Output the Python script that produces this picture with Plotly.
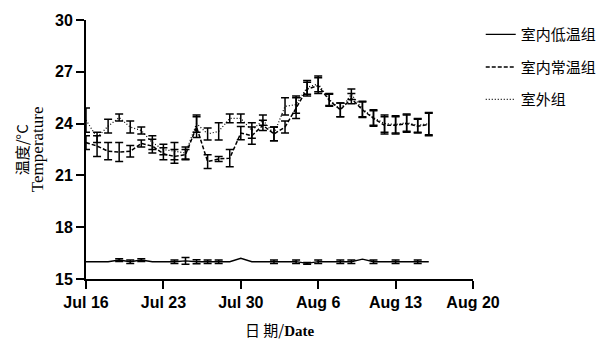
import plotly.graph_objects as go
import pandas as pd

dates = pd.date_range("2021-07-16", "2021-08-16", freq="D")

low_mean = [16.0, 16.0, 16.0, 16.1, 16.0, 16.1, 16.0, 16.0, 16.0, 16.05, 16.0, 16.0, 16.0, 16.0, 16.2, 16.0,
            16.0, 16.0, 16.0, 16.0, 15.9, 16.0, 16.0, 16.0, 16.0, 16.15, 16.0, 16.0, 16.0, 16.0, 16.0, 16.0]
low_err = [None, None, None, 0.08, 0.1, 0.08, None, None, 0.1, 0.2, 0.12, 0.1, 0.1, None, None, None,
           None, 0.1, None, 0.1, 0.05, 0.1, None, 0.1, 0.1, None, 0.1, None, 0.1, None, 0.1, None]

normal_mean = [22.9, 22.7, 22.4, 22.35, 22.4, 22.85, 22.7, 22.25, 22.1, 22.2, 23.8, 21.8, 21.95, 22.0, 23.45, 23.3,
               23.9, 23.4, 23.8, 24.9, 26.0, 26.2, 25.35, 24.8, 25.45, 24.8, 24.3, 23.9, 23.9, 24.0, 23.85, 23.95]
normal_err = [0.4, 0.6, 0.5, 0.55, 0.33, 0.2, 0.4, 0.35, 0.4, 0.3, 0.6, 0.4, 0.15, 0.5, 0.38, 0.5,
              0.3, 0.4, 0.35, 0.6, 0.4, 0.45, 0.35, 0.4, 0.3, 0.45, 0.45, 0.5, 0.5, 0.5, 0.4, 0.65]

outdoor_mean = [24.2, 23.2, 23.85, 24.35, 23.8, 23.6, 22.9, 22.5, 22.4, 22.3, 24.0, 23.4, 23.55, 24.3, 24.3, 23.6,
                24.2, 23.4, 25.0, 25.1, 26.1, 26.3, 25.4, 24.8, 25.7, 24.85, 24.35, 24.0, 23.95, 24.05, 23.9, 24.0]
outdoor_err = [0.7, 0.3, 0.4, 0.2, 0.35, 0.2, 0.4, 0.3, 0.5, 0.35, 0.5, 0.35, 0.5, 0.25, 0.25, 0.45,
               0.3, 0.4, 0.5, 0.5, 0.4, 0.45, 0.35, 0.4, 0.3, 0.45, 0.45, 0.5, 0.5, 0.5, 0.4, 0.65]

series_names = ["室内低温组", "室内常温组", "室外组"]
tick_dates = ["2021-07-16", "2021-07-23", "2021-07-30", "2021-08-06", "2021-08-13", "2021-08-20"]
tick_labels = ["Jul 16", "Jul 23", "Jul 30", "Aug 6", "Aug 13", "Aug 20"]
y_ticks = [15, 18, 21, 24, 27, 30]

fig = go.Figure()

eb = dict(type="data", color="black", thickness=1.5, width=4)

fig.add_trace(go.Scatter(x=dates, y=low_mean, mode="lines", name=series_names[0],
                         line=dict(color="black", width=1.3), legendgroup="a"))
lx = [d for d, e in zip(dates, low_err) if e is not None]
ly = [m for m, e in zip(low_mean, low_err) if e is not None]
le = [e for e in low_err if e is not None]
fig.add_trace(go.Scatter(x=lx, y=ly, mode="markers", marker=dict(size=0.1, color="black"),
                         error_y=dict(array=le, **eb), showlegend=False, hoverinfo="skip"))

fig.add_trace(go.Scatter(x=dates, y=normal_mean, mode="lines", name=series_names[1],
                         line=dict(color="black", width=1.5, dash="4px,2px"), legendgroup="b",
                         error_y=dict(array=normal_err, **eb)))
fig.add_trace(go.Scatter(x=dates, y=outdoor_mean, mode="lines", name=series_names[2],
                         line=dict(color="black", width=1.2, dash="1px,2px"), legendgroup="c",
                         error_y=dict(array=outdoor_err, **eb)))

axis_font = dict(family="Liberation Sans, Arial", size=16, color="black", weight="bold")

# page body has an 8px margin, so the figure is 8px smaller and offsets compensated
fig.update_layout(
    width=598, height=340,
    margin=dict(l=78, r=133, t=12, b=69, autoexpand=False),
    paper_bgcolor="white", plot_bgcolor="white",
    font=dict(family="Noto Sans CJK SC", color="black"),
    legend=dict(x=1.02, xanchor="left", y=1.007, yanchor="top",
                font=dict(family="Noto Sans CJK SC", size=15, color="black"),
                tracegroupgap=10, bgcolor="rgba(0,0,0,0)"),
    xaxis=dict(type="date", range=["2021-07-16", "2021-08-20"],
               tickvals=tick_dates, ticktext=tick_labels, automargin=False,
               showline=True, linewidth=2, linecolor="black", mirror=False,
               ticks="outside", ticklen=8, tickwidth=2, tickcolor="black",
               showgrid=False, zeroline=False, tickfont=axis_font),
    yaxis=dict(range=[15, 30], tickvals=y_ticks, automargin=False,
               showline=True, linewidth=2, linecolor="black",
               ticks="outside", ticklen=8, tickwidth=2, tickcolor="black",
               showgrid=False, zeroline=False, tickfont=axis_font),
    annotations=[
        dict(text="日 期/<b><span style='font-family:Liberation Serif'>Date</span></b>",
             xref="paper", yref="paper", x=0.5, y=-0.195, xanchor="center", yanchor="middle",
             showarrow=False, font=dict(family="Noto Sans CJK SC", size=15, color="black")),
        dict(text="温度/°C", textangle=-90,
             xref="paper", yref="paper", x=-0.166, y=0.5, xanchor="center", yanchor="middle",
             showarrow=False, font=dict(family="Noto Sans CJK SC", size=15, color="black")),
        dict(text="Temperature", textangle=-90,
             xref="paper", yref="paper", x=-0.125, y=0.5, xanchor="center", yanchor="middle",
             showarrow=False, font=dict(family="Liberation Serif", size=17, color="black")),
    ],
)

fig.write_html("out.html")
